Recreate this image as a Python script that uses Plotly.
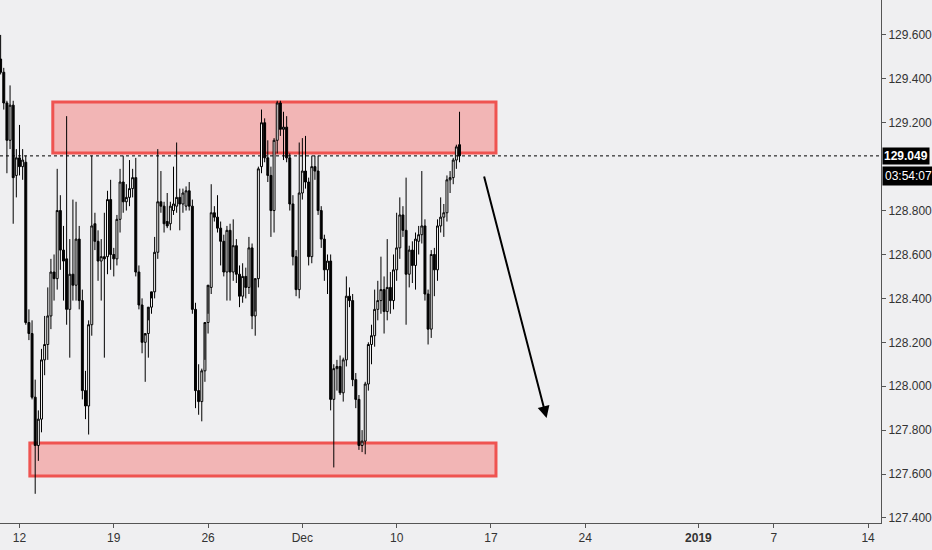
import plotly.graph_objects as go

# 4H candles, bar index 0 = Mon 12 Nov (weekends skipped, 6 bars/day)
bar_start = -6

opens = [129.49, 129.43, 129.29, 129.12, 129.28, 128.96, 129.04, 129.00, 129.02, 128.29,
         128.24, 127.95, 127.73, 127.85, 128.12, 128.19, 128.32, 128.52, 128.49, 128.80,
         128.62, 128.58, 128.35, 128.51, 128.46, 128.67, 128.39, 127.98, 127.91, 128.28,
         128.74, 128.66, 128.57, 128.59, 128.59, 128.85, 128.60, 128.58, 128.76, 128.93,
         128.84, 128.86, 128.90, 128.95, 128.52, 128.37, 128.20, 128.24, 128.36, 128.43,
         128.61, 128.84, 128.82, 128.75, 128.74, 128.80, 128.82, 128.86, 128.83, 128.82,
         128.89, 128.82, 128.35, 127.98, 127.93, 128.07, 128.29, 128.45, 128.79, 128.77,
         128.72, 128.66, 128.52, 128.71, 128.52, 128.64, 128.51, 128.41, 128.50, 128.45,
         128.63, 128.32, 128.49, 129.00, 129.20, 129.04, 128.96, 128.80, 129.12, 129.29,
         129.17, 129.18, 129.04, 128.83, 128.59, 128.44, 128.88, 128.98, 128.93, 128.59,
         129.00, 128.98, 128.80, 128.67, 128.53, 128.57, 127.94, 128.08, 128.09, 127.97,
         128.12, 128.41, 128.39, 128.03, 127.94, 127.73, 127.75, 128.01, 128.19, 128.23,
         128.35, 128.39, 128.44, 128.34, 128.45, 128.39, 128.53, 128.63, 128.78, 128.71,
         128.51, 128.62, 128.55, 128.66, 128.69, 128.73, 128.42, 128.26, 128.60, 128.53,
         128.73, 128.77, 128.79, 128.94, 128.95, 129.03, 129.10]
highs = [129.60, 129.45, 129.30, 129.37, 129.30, 129.08, 129.19, 129.08, 129.05, 128.35,
         128.30, 128.03, 127.89, 128.17, 128.32, 128.45, 128.58, 128.60, 128.99, 128.87,
         128.73, 129.23, 128.67, 128.85, 128.84, 128.73, 128.44, 128.07, 128.30, 129.05,
         128.79, 128.71, 128.67, 128.79, 128.89, 128.94, 128.63, 128.78, 128.99, 129.05,
         128.92, 129.03, 128.99, 129.04, 128.55, 128.40, 128.23, 128.30, 128.40, 128.68,
         129.08, 128.98, 128.84, 128.88, 128.84, 129.00, 129.11, 128.90, 128.90, 128.91,
         128.93, 128.85, 128.38, 128.10, 128.08, 128.12, 128.33, 128.92, 128.82, 128.87,
         128.75, 128.69, 128.73, 128.74, 128.76, 128.67, 128.55, 128.56, 128.54, 128.68,
         128.65, 128.34, 129.00, 129.26, 129.22, 129.12, 129.00, 129.13, 129.30, 129.30,
         129.25, 129.23, 129.06, 128.87, 128.62, 129.11, 129.13, 129.14, 128.95, 129.05,
         129.05, 129.05, 128.82, 128.69, 128.60, 128.60, 128.10, 128.12, 128.14, 128.13,
         128.50, 128.45, 128.42, 128.06, 127.96, 127.80, 128.02, 128.20, 128.28, 128.44,
         128.48, 128.59, 128.50, 128.67, 128.52, 128.60, 128.79, 128.86, 128.82, 128.95,
         128.64, 128.66, 128.70, 128.73, 128.98, 128.76, 128.44, 128.62, 128.63, 128.76,
         128.86, 128.83, 128.96, 128.98, 129.04, 129.10, 129.25]
lows = [129.42, 129.26, 128.97, 129.08, 128.74, 128.86, 128.96, 128.94, 128.28, 128.21,
        127.94, 127.51, 127.66, 127.79, 128.05, 128.12, 128.26, 128.39, 128.44, 128.53,
        128.39, 128.28, 128.13, 128.39, 128.39, 128.35, 127.94, 127.85, 127.78, 128.23,
        128.62, 128.48, 128.39, 128.13, 128.51, 128.53, 128.50, 128.55, 128.70, 128.79,
        128.80, 128.82, 128.86, 128.50, 128.35, 128.15, 128.02, 128.13, 128.33, 128.40,
        128.58, 128.79, 128.70, 128.72, 128.71, 128.78, 128.79, 128.71, 128.79, 128.80,
        128.80, 128.33, 127.90, 127.87, 127.84, 128.02, 128.24, 128.42, 128.75, 128.70,
        128.55, 128.50, 128.39, 128.39, 128.48, 128.47, 128.36, 128.38, 128.40, 128.42,
        128.26, 128.23, 128.45, 128.97, 129.02, 128.93, 128.68, 128.70, 129.06, 129.14,
        129.03, 129.02, 128.80, 128.55, 128.41, 128.40, 128.85, 128.90, 128.55, 128.56,
        128.94, 128.78, 128.63, 128.48, 128.42, 127.89, 127.63, 127.98, 127.96, 127.93,
        128.09, 128.36, 128.00, 127.90, 127.71, 127.70, 127.69, 127.98, 128.10, 128.18,
        128.30, 128.33, 128.24, 128.30, 128.33, 128.35, 128.48, 128.58, 128.68, 128.28,
        128.45, 128.47, 128.44, 128.60, 128.65, 128.39, 128.19, 128.22, 128.41, 128.48,
        128.70, 128.68, 128.75, 128.88, 128.92, 128.99, 129.02]
closes = [129.43, 129.29, 129.12, 129.28, 128.95, 129.04, 129.00, 129.03, 128.29, 128.24,
          127.95, 127.73, 127.85, 128.12, 128.19, 128.32, 128.52, 128.49, 128.80, 128.62,
          128.57, 128.35, 128.51, 128.46, 128.67, 128.39, 127.98, 127.91, 128.28, 128.73,
          128.66, 128.57, 128.59, 128.58, 128.85, 128.60, 128.58, 128.76, 128.93, 128.84,
          128.86, 128.90, 128.95, 128.52, 128.37, 128.20, 128.24, 128.36, 128.43, 128.61,
          128.84, 128.82, 128.74, 128.73, 128.82, 128.83, 128.86, 128.83, 128.88, 128.89,
          128.82, 128.35, 127.98, 127.93, 128.07, 128.29, 128.46, 128.79, 128.77, 128.72,
          128.66, 128.52, 128.71, 128.52, 128.64, 128.51, 128.41, 128.50, 128.45, 128.63,
          128.32, 128.49, 128.99, 129.20, 129.04, 128.96, 128.80, 129.12, 129.29, 129.17,
          129.18, 129.04, 128.83, 128.59, 128.44, 128.88, 128.98, 128.93, 128.59, 129.00,
          128.98, 128.80, 128.67, 128.53, 128.57, 127.94, 128.08, 128.09, 127.97, 128.12,
          128.41, 128.39, 128.03, 127.94, 127.73, 127.75, 128.01, 128.19, 128.23, 128.35,
          128.39, 128.44, 128.34, 128.45, 128.39, 128.53, 128.63, 128.78, 128.71, 128.51,
          128.62, 128.55, 128.67, 128.69, 128.73, 128.42, 128.26, 128.60, 128.53, 128.73,
          128.77, 128.79, 128.94, 128.95, 129.03, 129.09, 129.049]

last_price = 129.049
countdown = "03:54:07"

# zones drawn on the chart (bar index / price)
zone_top = [10.6, 151.6, 129.062, 129.295]
zone_bottom = [3.3, 151.6, 127.591, 127.741]
arrow_from = [147.7, 128.962]
arrow_to = [167.7, 127.855]

tick_bars = [0, 30, 60, 90, 120, 150, 180, 216, 240, 270]
tick_names = ["12", "19", "26", "Dec", "10", "17", "24", "<b>2019</b>", "7", "14"]
price_ticks = [127.4, 127.6, 127.8, 128.0, 128.2, 128.4, 128.6, 128.8, 129.2, 129.4, 129.6]

bars = list(range(bar_start, bar_start + len(closes)))

candles = go.Candlestick(
    x=bars, open=opens, high=highs, low=lows, close=closes,
    increasing=dict(line=dict(color="#000000", width=1), fillcolor="#ffffff"),
    decreasing=dict(line=dict(color="#000000", width=1), fillcolor="#000000"),
    whiskerwidth=0, showlegend=False, hoverinfo="skip",
)

fig = go.Figure(data=[candles])

zone_fill = "rgba(242,170,170,0.85)"
zone_line = "#ef5350"
for z in [zone_top, zone_bottom]:
    fig.add_shape(type="rect", xref="x", yref="y", x0=z[0], x1=z[1], y0=z[2], y1=z[3],
                  fillcolor=zone_fill, line=dict(color=zone_line, width=3), layer="below")

fig.add_shape(type="line", xref="paper", yref="y", x0=0, x1=1, y0=last_price, y1=last_price,
              line=dict(color="#000000", width=1, dash="dot"))

fig.add_annotation(x=arrow_to[0], y=arrow_to[1], ax=arrow_from[0], ay=arrow_from[1],
                   xref="x", yref="y", axref="x", ayref="y", text="", showarrow=True,
                   arrowhead=2, arrowsize=1.2, arrowwidth=2, arrowcolor="#000000")

fig.add_annotation(x=1, y=last_price, xref="paper", yref="y", xanchor="left", yanchor="middle",
                   text="<b>%.3f</b>" % last_price, showarrow=False, bgcolor="#000000",
                   font=dict(color="#ffffff", size=12, family="Liberation Sans"),
                   borderpad=1, xshift=1)
fig.add_annotation(x=1, y=last_price, xref="paper", yref="y", xanchor="left", yanchor="middle",
                   text=countdown, showarrow=False, bgcolor="#000000",
                   font=dict(color="#ffffff", size=12, family="Liberation Sans"),
                   borderpad=2, xshift=1, yshift=-20)

fig.update_layout(
    width=932, height=550,
    margin=dict(l=0, r=49, t=0, b=27),
    paper_bgcolor="#efeff1", plot_bgcolor="#efeff1",
    font=dict(family="Liberation Sans", size=12, color="#333333"),
    boxgap=0.12,
    xaxis=dict(range=[-6.2, 274.1], rangeslider=dict(visible=False), showgrid=False,
               zeroline=False, tickmode="array", tickvals=tick_bars, ticktext=tick_names,
               ticks="outside", ticklen=4, tickcolor="#555555", showline=True,
               linecolor="#555555", linewidth=1, mirror=False),
    yaxis=dict(range=[127.377, 129.759], side="right", showgrid=False, zeroline=False,
               tickmode="array", tickvals=price_ticks, tickformat=".3f",
               ticks="outside", ticklen=4, tickcolor="#555555", showline=True,
               linecolor="#555555", linewidth=1),
    showlegend=False,
)

fig.write_html("out.html", config={"displayModeBar": False},
               post_script="document.body.style.margin='0';")
